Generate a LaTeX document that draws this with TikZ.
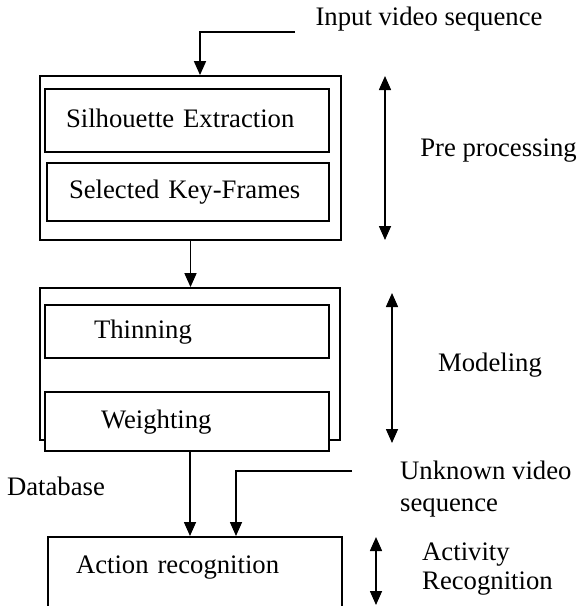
\documentclass[tikz,border=0pt]{standalone}
\usepackage{fontspec}
\setmainfont{Liberation Serif}
\usetikzlibrary{shapes,arrows,arrows.meta}
\usetikzlibrary{positioning}
\tikzstyle{block} = [rectangle, draw, line width=1.8pt, fill=white, align=left,
    font=\fontsize{26.7}{32}\selectfont, text height=18.7pt, text depth=5.3pt]
\tikzstyle{frame} = [rectangle, draw, line width=1.8pt, inner sep=0pt]
\tikzstyle{caption} = [font=\fontsize{26.7}{32}\selectfont, align=left, inner sep=0pt]
\tikzstyle{line} = [draw, line width=1.6pt, -{Triangle[length=14pt,width=12pt]}]
\tikzstyle{span} = [draw, line width=1.6pt, {Triangle[length=14pt,width=12pt]}-{Triangle[length=14pt,width=12pt]}]

\begin{document}
\begin{tikzpicture}[x=1pt,y=-1pt]
    \useasboundingbox (0,0) rectangle (577,606);
    % Place nodes
    \node [frame, minimum width=301pt, minimum height=164pt] (pre) at (190.5,158) {};
    \node [block, text width=242pt, inner xsep=21pt, minimum height=63pt] (silh) at (187,120.5) {Silhouette Extraction};
    \node [block, text width=238pt, inner xsep=22pt, minimum height=58pt] (keyf) at (188,192) {Selected Key-Frames};
    \node [frame, minimum width=300pt, minimum height=152pt] (mod) at (190,364) {};
    \node [block, text width=186pt, inner xsep=49pt, minimum height=53pt] (thin) at (187,331.5) {Thinning};
    \node [block, text width=172pt, inner xsep=56pt, minimum height=59pt] (wght) at (187,421.5) {Weighting};
    \node [block, text width=238pt, inner xsep=28pt, inner ysep=17.6pt, text depth=35pt, anchor=north] (act) at (195,536) {Action recognition};
    % Labels
    \node [caption] (inlbl) at (429,19) {Input video sequence};
    \node [caption] (prelbl) at (498.5,151) {Pre processing};
    \node [caption] (modlbl) at (490,365) {Modeling};
    \node [caption] (dblbl) at (56,486) {Database};
    \node [caption, anchor=west] (unklbl) at (400,489) {Unknown video\\sequence};
    \node [caption, anchor=west, font=\fontsize{26.7}{28.5}\selectfont] (actlbl) at (422,569) {Activity\\Recognition};
    % Free ends
    \coordinate (insrc) at (295,32);
    \coordinate (unksrc) at (352,471);
    \coordinate (pretop) at (385,76);
    \coordinate (prebot) at (385,240);
    \coordinate (modtop) at (392,293);
    \coordinate (modbot) at (392,443);
    \coordinate (acttop) at (376,537);
    \coordinate (actbot) at (376,605);
    % Draw edges
    \path [line] (insrc) -| (200,0 |- pre.north);
    \path [line] (pre.south) -- (pre.south |- mod.north);
    \path [line] (wght.south -| mod.south) -- (act.north -| mod.south);
    \path [line] (unksrc) -| (236,0 |- act.north);
    \path [span] (pretop) -- (prebot);
    \path [span] (modtop) -- (modbot);
    \path [span] (acttop) -- (actbot);
\end{tikzpicture}
\end{document}
